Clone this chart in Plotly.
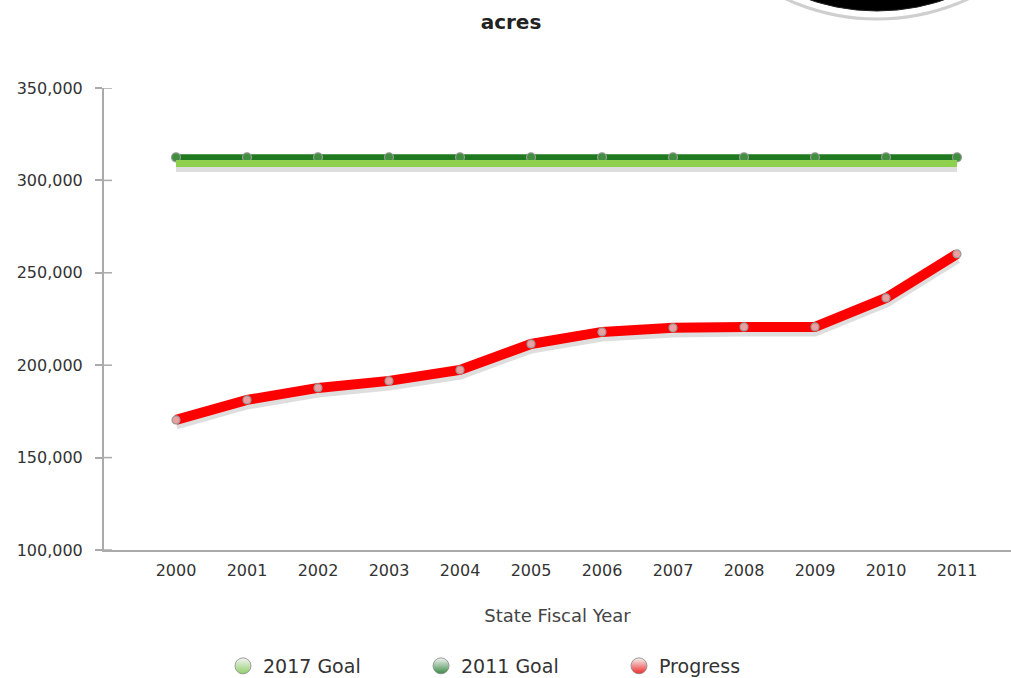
import plotly.graph_objects as go

years = [2000, 2001, 2002, 2003, 2004, 2005, 2006, 2007, 2008, 2009, 2010, 2011]
progress = [170400, 181200, 187700, 191500, 197400, 211500, 218000, 220200, 220700, 220700, 236400, 260200]
goal_2017 = [309200] * 12
goal_2011 = [312500] * 12
y_ticks = [100000, 150000, 200000, 250000, 300000, 350000]

FONT = "DejaVu Sans, Verdana, sans-serif"
OFF = 0  # body margin removed by post_script
PAGE_W, PAGE_H = 1011, 678
W, H = PAGE_W - OFF, PAGE_H - OFF
# plot area in page pixels
PX0, PX1, PY0, PY1 = 104, 1011, 88, 550
L, R, T, B = PX0 - OFF, PAGE_W - PX1, PY0 - OFF, PAGE_H - PY1
PW, PH = PX1 - PX0, PY1 - PY0

fig = go.Figure()

def shadow(xs, ys, width):
    fig.add_trace(go.Scatter(x=xs, y=[v - 2200 for v in ys], mode="lines",
                             line=dict(color="rgba(0,0,0,0.13)", width=width),
                             showlegend=False, hoverinfo="skip"))

shadow(years, goal_2017, 9)
shadow(years, progress, 11)

fig.add_trace(go.Scatter(x=years, y=goal_2011, mode="lines+markers", name="2011 Goal",
                         line=dict(color="#1f7a1f", width=6),
                         marker=dict(size=9, color="#3f8f3f", line=dict(color="#999", width=1.2)),
                         showlegend=False))
fig.add_trace(go.Scatter(x=years, y=goal_2017, mode="lines", name="2017 Goal",
                         line=dict(color="#8fd14f", width=7),
                         showlegend=False))
fig.add_trace(go.Scatter(x=years, y=progress, mode="lines+markers", name="Progress",
                         line=dict(color="#ff0000", width=10),
                         marker=dict(size=8, color="#eaa0a0", line=dict(color="#999", width=1.2)),
                         showlegend=False))

# legend entries
for name, col in [("2017 Goal", "#8fcf6a"), ("2011 Goal", "#3a8a45"), ("Progress", "#ee2a2a")]:
    fig.add_trace(go.Scatter(x=[None], y=[None], mode="markers", name=name,
                             marker=dict(size=16, color="#f4f4f4",
                                         gradient=dict(type="vertical", color=col),
                                         line=dict(color="#888", width=0.8))))

def px_to_paper_x(px):
    return (px - PX0) / PW

def px_to_paper_y(py):
    return (PY1 - py) / PH

# logo circle partially visible at top-right
cx, cy = 877, -198
for rad, fill, lc, lw in [(217, "white", "#cfcfcf", 3), (209, "black", "#222", 1)]:
    fig.add_shape(type="circle", xref="paper", yref="paper",
                  x0=px_to_paper_x(cx - rad), x1=px_to_paper_x(cx + rad),
                  y0=px_to_paper_y(cy + rad), y1=px_to_paper_y(cy - rad),
                  fillcolor=fill, line=dict(color=lc, width=lw), layer="above")

# inner halves of the y tick marks (ticks cross the axis line)
for v in y_ticks:
    fig.add_shape(type="line", xref="paper", yref="y", x0=0, x1=8 / PW, y0=v, y1=v,
                  line=dict(color="#aaa", width=1.5))

fig.update_layout(
    width=W, height=H,
    margin=dict(l=L, r=R, t=T, b=B),
    paper_bgcolor="white", plot_bgcolor="white",
    font=dict(family=FONT, color="#333"),
    title=dict(text="<b>acres</b>", x=(511 - OFF) / W, xref="container", xanchor="center",
               y=1 - (22 - OFF) / H, yref="container", yanchor="middle",
               font=dict(size=20, color="#222", family=FONT)),
    legend=dict(orientation="h", xref="container", x=(520 - OFF) / W, xanchor="center",
                yref="container", y=1 - (666 - OFF) / H, yanchor="middle",
                font=dict(size=19, color="#333", family=FONT),
                entrywidth=153, bgcolor="rgba(0,0,0,0)"),
    showlegend=True,
)

fig.update_xaxes(
    range=[2000 - (176 - PX0) / 71, 2000 + (PX1 - 176) / 71],
    tickmode="array", tickvals=years, ticktext=[str(y) for y in years],
    showgrid=False, zeroline=False,
    showline=True, linecolor="#aaa", linewidth=2,
    ticks="", ticklabelstandoff=5, tickfont=dict(size=16, color="#333"),
    title=dict(text="State Fiscal Year", font=dict(size=18, color="#444"), standoff=30),
)
fig.update_yaxes(
    range=[100000, 350000],
    tickmode="array", tickvals=y_ticks, ticktext=[f"{v:,}" for v in y_ticks],
    showgrid=False, zeroline=False,
    showline=True, linecolor="#aaa", linewidth=2,
    ticks="outside", ticklen=7, tickcolor="#aaa", tickwidth=1.5,
    ticklabelstandoff=9,
    tickfont=dict(size=16, color="#333"),
)

fig.write_html("out.html", config={"displayModeBar": False},
               post_script="document.body.style.margin='0';document.body.style.overflow='hidden';")
